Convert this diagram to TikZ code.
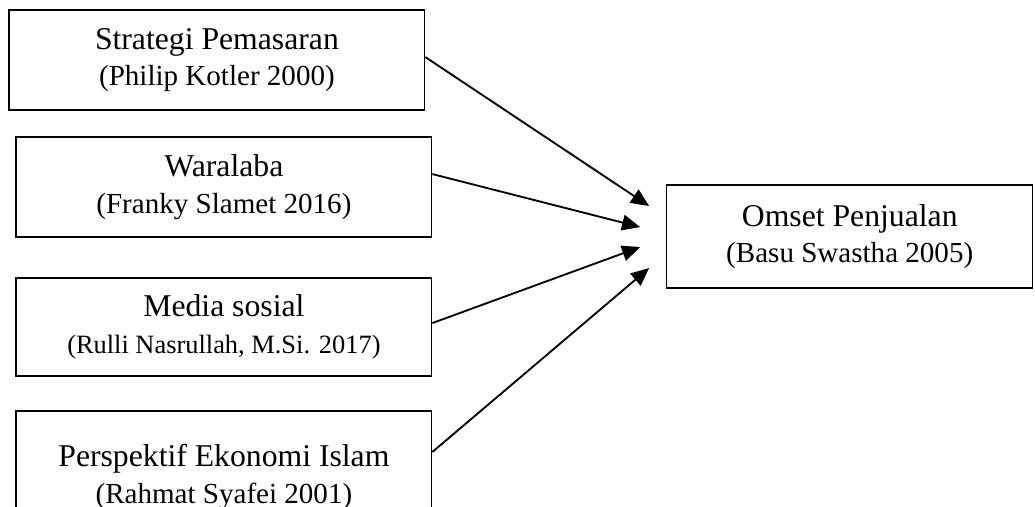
\documentclass[tikz,border=0pt]{standalone}
\usepackage{fontspec}
\setmainfont{Liberation Serif}
\usepackage{tikz}
\usetikzlibrary{positioning, calc, arrows.meta}

\newcommand{\srcline}[1]{{\fontsize{11}{13.2}\selectfont #1}}
\newcommand{\srclinesmall}[1]{{\fontsize{10}{12}\selectfont #1}}

\tikzset{
    box/.style={draw, rectangle, line width=0.5pt, align=center, inner sep=0pt,
        minimum width=5.53cm, minimum height=1.33cm, font=\fontsize{12}{13.8}\selectfont}
}

\begin{document}
\begin{tikzpicture}[line width=0.7pt,>={Triangle[length=2.4mm,width=2.1mm]}]

    \useasboundingbox (0,0) rectangle (13.77,6.745);

    % Independent variables
    \node[box] (strategi) at (2.886,5.945) {Strategi Pemasaran\\\srcline{(Philip Kotler 2000)}};
    \node[box] (waralaba) at (2.979,4.256) {Waralaba\\\srcline{(Franky Slamet 2016)}};
    \node[box, minimum height=1.303cm] (media) at (2.979,2.394)
        {Media sosial\\\srclinesmall{(Rulli Nasrullah, M.Si. 2017)}};
    \node[box, minimum height=1.756cm] (islam) at (2.979,0.399)
        {Perspektif Ekonomi Islam\\\srcline{(Rahmat Syafei 2001)}};

    % Dependent variable
    \node[box, minimum width=4.868cm, minimum height=1.37cm] (omset) at (11.305,3.598)
        {Omset Penjualan\\\srcline{(Basu Swastha 2005)}};

    % Arrows
    \draw[->] ([yshift=0.04cm]strategi.east) -- ([shift={(-0.226,0.406)}]omset.west);
    \draw[->] ([yshift=0.173cm]waralaba.east) -- ([shift={(-0.346,0.126)}]omset.west);
    \draw[->] ([yshift=0.053cm]media.east) -- ([shift={(-0.346,-0.140)}]omset.west);
    \draw[->] ([yshift=0.333cm]islam.east) -- ([shift={(-0.226,-0.419)}]omset.west);

\end{tikzpicture}
\end{document}
